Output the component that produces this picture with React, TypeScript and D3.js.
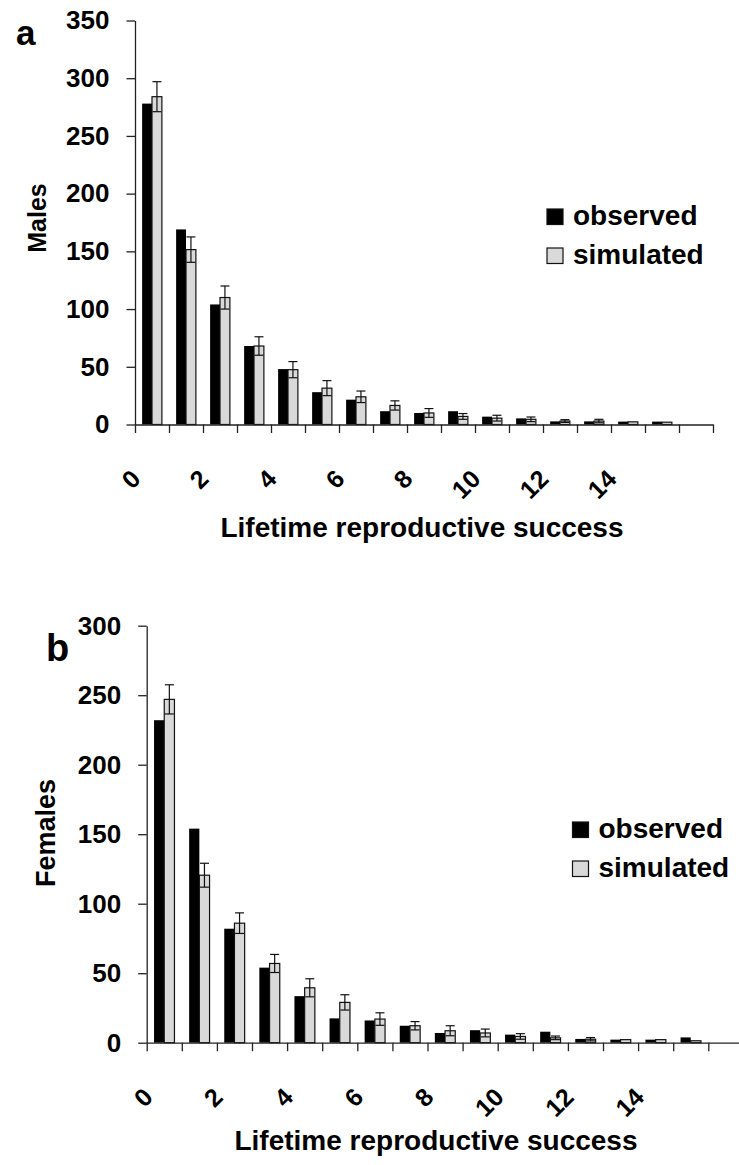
import React, { useRef, useEffect } from 'react';
import * as d3 from 'd3';

// Lifetime reproductive success classes (0..16)
const categories = ['0', '1', '2', '3', '4', '5', '6', '7', '8', '9', '10', '11', '12', '13', '14', '15', '16'];
const tickLabels = ['0', '2', '4', '6', '8', '10', '12', '14'];
const seriesNames = ['observed', 'simulated'];

const malesObserved = [278, 169, 104, 68, 48, 28, 21.5, 11.5, 10, 11.5, 6.8, 5.3, 2.7, 2.7, 2.5, 2.5, 0];
const malesSimulated = [284, 151.5, 110, 68, 47.5, 31.5, 24, 16.5, 10, 7, 5.5, 4.5, 3, 3, 2.3, 2, 0];
const malesError = [13, 11, 10, 8, 7, 6.5, 5, 4, 3.8, 2.5, 2.5, 2, 1.2, 1.5, 0, 0, 0];
const malesTicks = [0, 50, 100, 150, 200, 250, 300, 350];

const femalesObserved = [232, 154, 82, 54, 33.5, 17.5, 16, 12.2, 7, 9, 5.8, 7.9, 2.7, 2.2, 2.2, 3.8, 0];
const femalesSimulated = [247, 120.5, 86, 57, 39.5, 29, 17, 12.2, 8.6, 7, 4.5, 3.5, 2.5, 2.2, 2.2, 1.4, 0];
const femalesError = [10.5, 8.6, 7.4, 6.5, 6.5, 5.5, 4.5, 3, 3.6, 2.8, 2, 1.3, 1.2, 0, 0, 0, 0];
const femalesTicks = [0, 50, 100, 150, 200, 250, 300];

const FONT = "'Liberation Sans', Arial, Helvetica, sans-serif";

interface PanelConfig {
  letter: string;
  yTitle: string;
  observed: number[];
  simulated: number[];
  error: number[];
  yTicks: number[];
  left: number;
  right: number;
  top: number;
  bottom: number;
  letterPos: [number, number, number];
  titlePos: [number, number, number];
  xTitle: [number, number];
  legend: [number, number];
}

const panels: PanelConfig[] = [
  {
    letter: 'a', yTitle: 'Males',
    observed: malesObserved, simulated: malesSimulated, error: malesError, yTicks: malesTicks,
    left: 135, right: 713, top: 20.5, bottom: 424.5,
    letterPos: [16, 45, 35], titlePos: [46, 218, 25], xTitle: [422, 537], legend: [547, 209]
  },
  {
    letter: 'b', yTitle: 'Females',
    observed: femalesObserved, simulated: femalesSimulated, error: femalesError, yTicks: femalesTicks,
    left: 146.7, right: 743.4, top: 625.7, bottom: 1042.7,
    letterPos: [46, 661, 38], titlePos: [55, 833, 27], xTitle: [436, 1150], legend: [572.5, 822]
  }
];

function drawPanel(svg: d3.Selection<SVGSVGElement, unknown, null, undefined>, p: PanelConfig) {
  const g = svg.append('g').attr('font-family', FONT).attr('font-weight', 'bold');

  const y = d3.scaleLinear()
    .domain([0, p.yTicks[p.yTicks.length - 1]])
    .range([p.bottom, p.top]);

  const x = d3.scaleBand()
    .domain(categories)
    .range([p.left, p.right])
    .padding(0);

  const xSub = d3.scaleBand()
    .domain(seriesNames)
    .range([0, x.bandwidth()])
    .paddingInner(0)
    .paddingOuter(0.72);

  const xEdge = d3.scaleLinear()
    .domain([0, categories.length])
    .range([p.left, p.right]);

  // Bars
  const rows = categories.map((c, i) => ({
    cat: c, obs: p.observed[i], sim: p.simulated[i], err: p.error[i]
  }));

  g.append('g')
    .selectAll('rect.obs')
    .data(rows.filter(d => d.obs > 0))
    .join('rect')
    .attr('x', d => (x(d.cat) || 0) + (xSub('observed') || 0))
    .attr('y', d => y(d.obs))
    .attr('width', xSub.bandwidth())
    .attr('height', d => y(0) - y(d.obs))
    .attr('fill', '#000');

  g.append('g')
    .selectAll('rect.sim')
    .data(rows.filter(d => d.sim > 0))
    .join('rect')
    .attr('x', d => (x(d.cat) || 0) + (xSub('simulated') || 0))
    .attr('y', d => y(d.sim))
    .attr('width', xSub.bandwidth())
    .attr('height', d => y(0) - y(d.sim))
    .attr('fill', '#d9d9d9')
    .attr('stroke', '#111')
    .attr('stroke-width', 1.2);

  // Error bars
  const errRows = rows.filter(d => d.err > 0);
  const cx = (d: typeof rows[number]) => (x(d.cat) || 0) + (xSub('simulated') || 0) + xSub.bandwidth() / 2;
  const capW = 4.5;
  const eb = g.append('g').attr('stroke', '#111').attr('stroke-width', 1.2);
  eb.selectAll('line.v')
    .data(errRows)
    .join('line')
    .attr('x1', cx).attr('x2', cx)
    .attr('y1', d => y(d.sim + d.err))
    .attr('y2', d => y(Math.max(0, d.sim - d.err)));
  eb.selectAll('line.top')
    .data(errRows)
    .join('line')
    .attr('x1', d => cx(d) - capW).attr('x2', d => cx(d) + capW)
    .attr('y1', d => y(d.sim + d.err)).attr('y2', d => y(d.sim + d.err));
  eb.selectAll('line.bot')
    .data(errRows)
    .join('line')
    .attr('x1', d => cx(d) - capW).attr('x2', d => cx(d) + capW)
    .attr('y1', d => y(Math.max(0, d.sim - d.err))).attr('y2', d => y(Math.max(0, d.sim - d.err)));

  // Y axis
  const yAxis = g.append('g')
    .attr('transform', `translate(${p.left},0)`)
    .call(d3.axisLeft(y).tickValues(p.yTicks).tickSize(8.5).tickSizeOuter(0).tickPadding(17));
  yAxis.selectAll('path, line').attr('stroke', '#222').attr('stroke-width', 1.3);
  yAxis.selectAll('text')
    .attr('font-family', FONT)
    .attr('font-weight', 'bold')
    .attr('font-size', 26)
    .attr('fill', '#000');

  // X axis: ticks on category boundaries
  const xAxis = g.append('g')
    .attr('transform', `translate(0,${p.bottom})`)
    .call(d3.axisBottom(xEdge).tickValues(d3.range(categories.length + 1)).tickSize(8.5).tickSizeOuter(0).tickFormat(() => ''));
  xAxis.selectAll('path, line').attr('stroke', '#222').attr('stroke-width', 1.3);

  // Rotated x labels
  g.append('g')
    .selectAll('text')
    .data(tickLabels)
    .join('text')
    .attr('transform', d => `translate(${(x(d) || 0) + x.bandwidth() / 2 - 10},${p.bottom + 56}) rotate(-45)`)
    .attr('text-anchor', 'end')
    .attr('font-size', 25)
    .text(d => d);

  // Titles
  g.append('text')
    .attr('x', p.xTitle[0])
    .attr('y', p.xTitle[1])
    .attr('text-anchor', 'middle')
    .attr('font-size', 28)
    .text('Lifetime reproductive success');

  g.append('text')
    .attr('transform', `translate(${p.titlePos[0]},${p.titlePos[1]}) rotate(-90)`)
    .attr('text-anchor', 'middle')
    .attr('font-size', p.titlePos[2])
    .text(p.yTitle);

  g.append('text')
    .attr('x', p.letterPos[0])
    .attr('y', p.letterPos[1])
    .attr('font-size', p.letterPos[2])
    .text(p.letter);

  // Legend
  const lg = g.append('g').attr('transform', `translate(${p.legend[0]},${p.legend[1]})`);
  seriesNames.forEach((name, i) => {
    lg.append('rect')
      .attr('x', 0)
      .attr('y', i * 39)
      .attr('width', 16)
      .attr('height', 15.5)
      .attr('fill', i === 0 ? '#000' : '#d9d9d9')
      .attr('stroke', '#111')
      .attr('stroke-width', 1.2);
    lg.append('text')
      .attr('x', 26)
      .attr('y', i * 39 + 16)
      .attr('font-size', 28)
      .text(name);
  });
}

const App: React.FC = () => {
  const ref = useRef<SVGSVGElement | null>(null);

  useEffect(() => {
    if (!ref.current) return;
    const svg = d3.select(ref.current);
    svg.selectAll('*').remove();
    panels.forEach(p => drawPanel(svg, p));
  }, []);

  return (
    <svg
      ref={ref}
      width={739}
      height={1165}
      style={{ position: 'absolute', left: 0, top: 0, background: '#fff' }}
    />
  );
};

export default App;
